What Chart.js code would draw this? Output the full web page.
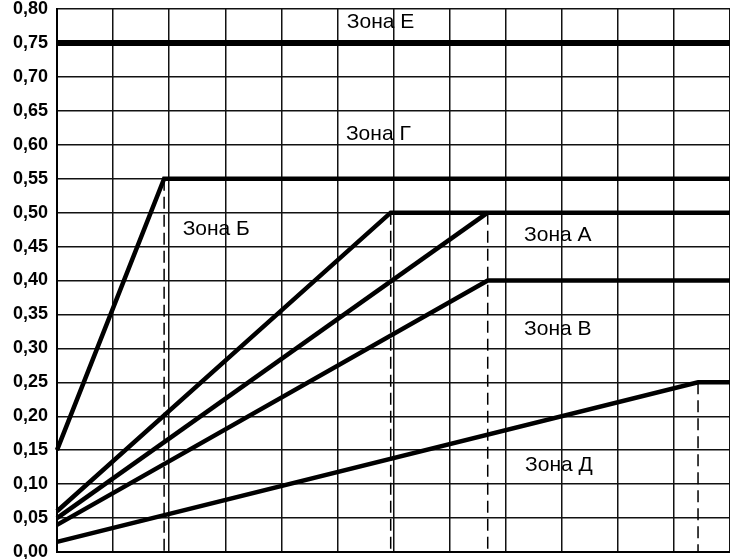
<!DOCTYPE html>
<html>
<head>
<meta charset="utf-8">
<script src="https://cdn.jsdelivr.net/npm/chart.js@4/dist/chart.umd.min.js"></script>
<style>
  html, body { margin: 0; padding: 0; background: #fff; }
  #wrap { width: 730px; height: 559px; }
</style>
</head>
<body>
<div id="wrap"><canvas id="zones"></canvas></div>
<script>
// boundary lines (x in grid cells, y in axis units)
const xE = [0, 12];
const yE = [0.75, 0.75];
const xB = [0, 1.91, 12];
const yB = [0.15, 0.55, 0.55];
const xA1 = [0, 5.95, 12];
const yA1 = [0.06, 0.50, 0.50];
const xA2 = [0, 7.68];
const yA2 = [0.05, 0.50];
const xV = [0, 7.68, 12];
const yV = [0.04, 0.40, 0.40];
const xD = [0, 11.43, 12];
const yD = [0.015, 0.25, 0.25];

// dashed drops from the break points
const breakX = [1.91, 5.95, 7.68, 11.43];
const breakY = [0.55, 0.50, 0.50, 0.25];

// zone captions
const zoneNames = ['Зона Е', 'Зона Г', 'Зона Б', 'Зона А', 'Зона В', 'Зона Д'];
const zoneX = [5.77, 5.73, 2.84, 8.93, 8.93, 8.95];
const zoneY = [0.78, 0.615, 0.476, 0.466, 0.328, 0.128];

const yMin = 0, yMax = 0.80, yStep = 0.05;
const xMin = 0, xMax = 12;

const pts = (xs, ys) => xs.map((x, i) => ({ x: x, y: ys[i] }));

const solid = (xs, ys, w) => ({
  data: pts(xs, ys),
  borderColor: '#000',
  borderWidth: w,
  pointRadius: 0,
  fill: false,
  tension: 0,
  clip: false,
});

const dashed = breakX.map((x, i) => ({
  data: [{ x: x, y: breakY[i] }, { x: x, y: 0 }],
  borderColor: '#000',
  borderWidth: 1.5,
  borderDash: [12, 6],
  pointRadius: 0,
  fill: false,
}));

const zoneText = {
  id: 'zoneText',
  afterDatasetsDraw(chart) {
    const { ctx, scales } = chart;
    ctx.save();
    ctx.fillStyle = '#000';
    ctx.font = '21px "Liberation Sans", Arial, sans-serif';
    ctx.textAlign = 'center';
    ctx.textBaseline = 'middle';
    zoneNames.forEach((name, i) => {
      ctx.fillText(name, scales.x.getPixelForValue(zoneX[i]), scales.y.getPixelForValue(zoneY[i]));
    });
    ctx.restore();
  },
};

new Chart(document.getElementById('zones').getContext('2d'), {
  type: 'line',
  data: {
    datasets: [
      solid(xE, yE, 6),
      solid(xB, yB, 4.5),
      solid(xA1, yA1, 4.5),
      solid(xA2, yA2, 4.5),
      solid(xV, yV, 4.5),
      solid(xD, yD, 4.5),
      ...dashed,
    ],
  },
  options: {
    responsive: true,
    maintainAspectRatio: false,
    animation: false,
    layout: { padding: { top: 9, bottom: 7, right: 0, left: 0 } },
    plugins: {
      legend: { display: false },
      tooltip: { enabled: false },
    },
    scales: {
      x: {
        type: 'linear',
        min: xMin,
        max: xMax,
        afterFit: (scale) => {
          scale.height = 0;
          scale.paddingLeft = 0;
          scale.paddingRight = 0;
        },
        ticks: { display: false, stepSize: 1 },
        grid: { color: '#111', lineWidth: 1.5, drawTicks: false },
        border: { color: '#000', width: 2 },
      },
      y: {
        type: 'linear',
        min: yMin,
        max: yMax,
        afterFit: (scale) => {
          scale.width = 57;
          scale.paddingTop = 0;
          scale.paddingBottom = 0;
        },
        ticks: {
          stepSize: yStep,
          color: '#000',
          padding: 9,
          font: { family: '"Liberation Sans", Arial, sans-serif', size: 18, weight: 'bold' },
          callback: (v) => v.toFixed(2).replace('.', ','),
        },
        grid: { color: '#111', lineWidth: 1.5, drawTicks: false },
        border: { color: '#000', width: 2 },
      },
    },
  },
  plugins: [zoneText],
});
</script>
</body>
</html>
